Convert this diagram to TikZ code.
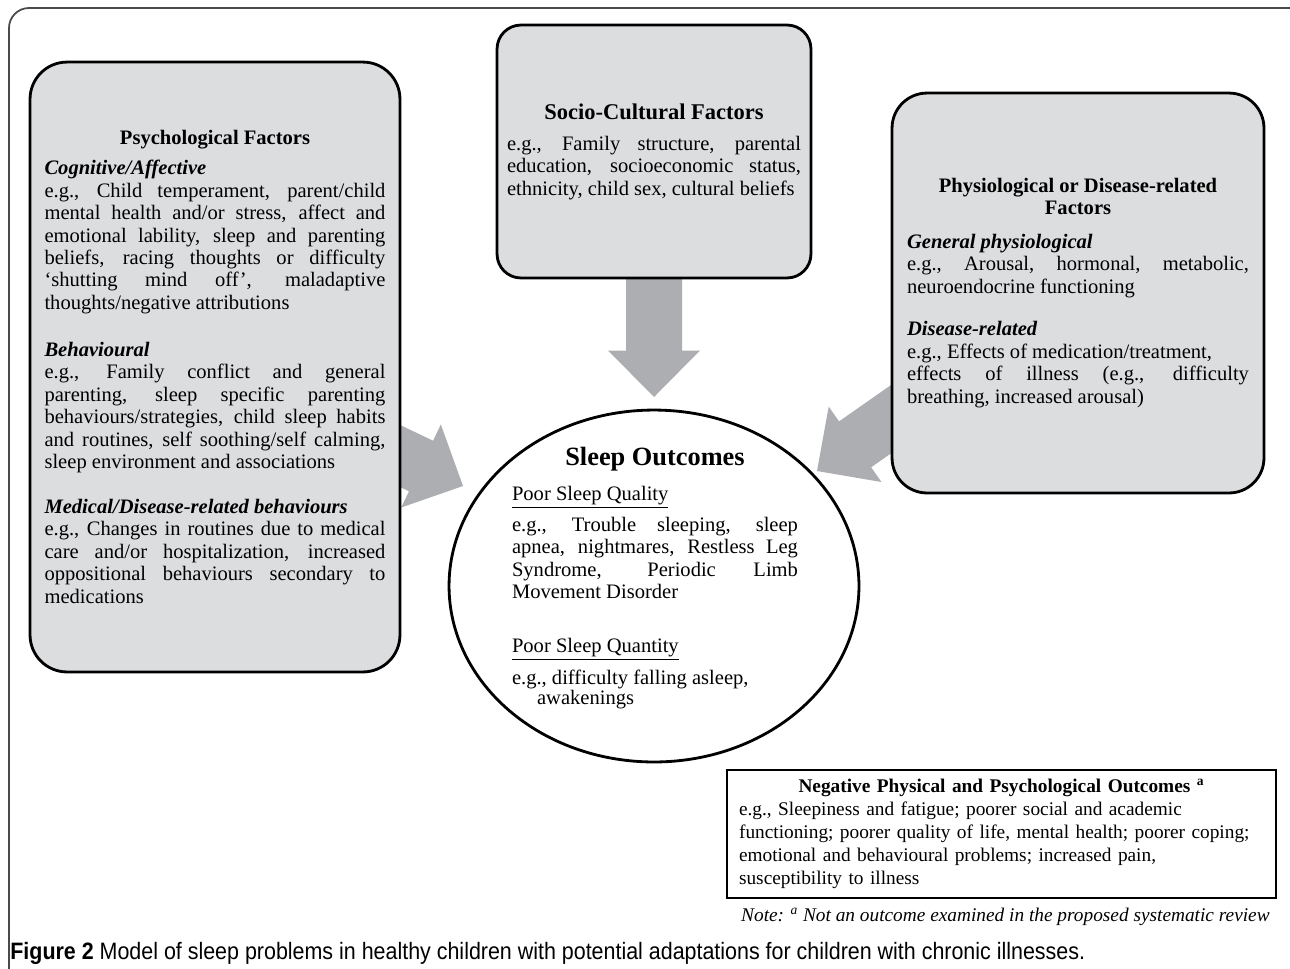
\documentclass[tikz,border=0pt]{standalone}
\usepackage{fontspec}
\setmainfont{Liberation Serif}
\newfontfamily\captionfont{Liberation Sans}
\usepackage{graphicx}
\usetikzlibrary{shapes.geometric,positioning}

\definecolor{boxgray}{HTML}{DCDDDF}
\definecolor{arrowgray}{HTML}{ADAEB1}
\definecolor{framegray}{HTML}{4A4A4A}

\tolerance=9999
\hyphenpenalty=10000

\begin{document}
\begin{tikzpicture}[x=0.02cm,y=-0.02cm,
    factor/.style={draw=black,line width=1.6pt,fill=boxgray,align=justify,
        inner xsep=0.29cm,font=\fontsize{11.7}{12.8}\selectfont},
    bigarrow/.style={fill=arrowgray}]

    % Page bounds
    \useasboundingbox (0,0) rectangle (1290,968);
    \fill[white] (0,0) rectangle (1290,968);
    \clip (0,0) rectangle (1290,968);

    % Outer frame
    \draw[framegray,line width=1pt,rounded corners=0.4cm] (9,990) -- (9,8) -- (1310,8) -- (1310,990);

    % Block arrows (tails hidden under the boxes)
    \foreach \tipx/\tipy/\ang in {463/486/-25.5, 654/397/-90, 817/471/-145}
        \fill[bigarrow,shift={(\tipx,\tipy)},rotate=\ang]
            (0,0) -- (-46.5,46) -- (-46.5,28) -- (-160,28) -- (-160,-28)
            -- (-46.5,-28) -- (-46.5,-46) -- cycle;

    % Psychological factors
    \node[factor,rounded corners=0.74cm,minimum width=7.4cm,minimum height=12.2cm,
        text width=6.82cm] (psych) at (215,367) {%
        {\centering\bfseries Psychological Factors\par}
        \vspace{4.2pt}
        \textbf{\textit{Cognitive/Affective}}\par
        e.g., Child temperament, parent/child\linebreak
        mental health and/or stress, affect and\linebreak
        emotional lability, sleep and parenting\linebreak
        beliefs, racing thoughts or difficulty\linebreak
        ‘shutting mind off’, maladaptive\linebreak
        thoughts/negative attributions\par
        \vspace{13.8pt}
        \textbf{\textit{Behavioural}}\par
        e.g., Family conflict and general\linebreak
        parenting, sleep specific parenting\linebreak
        behaviours/strategies, child sleep habits\linebreak
        and routines, self soothing/self calming,\linebreak
        sleep environment and associations\par
        \vspace{12.7pt}
        \textbf{\textit{Medical/Disease-related behaviours}}\par
        e.g., Changes in routines due to medical\linebreak
        care and/or hospitalization, increased\linebreak
        oppositional behaviours secondary to\linebreak
        medications};

    % Socio-cultural factors
    \node[factor,rounded corners=0.48cm,minimum width=6.28cm,minimum height=5.06cm,
        inner xsep=0.2cm,text width=5.88cm] (socio) at (654,151.5) {%
        {\centering\bfseries\fontsize{12.8}{14}\selectfont Socio-Cultural Factors\par}
        \vspace{4.8pt}
        e.g., Family structure, parental\linebreak
        education, socioeconomic status,\linebreak
        ethnicity, child sex, cultural beliefs};

    % Physiological or disease-related factors
    \node[factor,rounded corners=0.7cm,minimum width=7.44cm,minimum height=8cm,
        inner xsep=0.3cm,text width=6.84cm] (physio) at (1078,293) {%
        {\centering\bfseries Physiological or Disease-related\\Factors\par}
        \vspace{6pt}
        \textbf{\textit{General physiological}}\par
        e.g., Arousal, hormonal, metabolic,\linebreak
        neuroendocrine functioning\par
        \vspace{11.6pt}
        \textbf{\textit{Disease-related}}\par
        e.g., Effects of medication/treatment,\\
        effects of illness (e.g., difficulty\linebreak
        breathing, increased arousal)};

    % Sleep outcomes
    \node[draw,ellipse,line width=1.6pt,fill=white,minimum width=8.2cm,
        minimum height=7.04cm,inner sep=0pt] (outcomes) at (654,586) {};
    \node[align=justify,text width=5.72cm,font=\fontsize{11.7}{12.8}\selectfont]
        (sleeptext) at (655,578) {%
        {\centering\bfseries\fontsize{15}{18}\selectfont Sleep Outcomes\par}
        \vspace{7pt}
        \underline{Poor Sleep Quality}\par
        \vspace{4.8pt}
        e.g., Trouble sleeping, sleep\linebreak
        apnea, nightmares, Restless Leg\linebreak
        Syndrome, Periodic Limb\linebreak
        Movement Disorder\par
        \vspace{17.8pt}
        \underline{Poor Sleep Quantity}\par
        \vspace{5.3pt}
        e.g., difficulty falling asleep,\\[-1.5pt]
        \hspace*{0.5cm}awakenings};

    % Negative outcomes
    \node[draw,line width=0.7pt,minimum width=10.98cm,minimum height=2.56cm,
        inner xsep=0.24cm,text width=10.5cm,align=left,
        font=\fontsize{11}{13}\selectfont] (negative) at (1001.5,834) {%
        {\centering\bfseries Negative Physical and Psychological Outcomes \textsuperscript{a}\par}
        e.g., Sleepiness and fatigue; poorer social and academic\\
        functioning; poorer quality of life, mental health; poorer coping;\\
        emotional and behavioural problems; increased pain,\\
        susceptibility to illness};

    % Note
    \node[anchor=base east,inner sep=0pt,font=\itshape\fontsize{11}{13}\selectfont]
        (note) at (1270,921) {Note: \textsuperscript{a} Not an outcome examined in the proposed systematic review};

    % Caption
    \node[anchor=base west,inner sep=0pt] (caption) at (10,959) {\resizebox{21.5cm}{\height}{%
        \captionfont\fontsize{13.5}{16}\selectfont\textbf{Figure 2} Model of sleep problems in healthy children with potential adaptations for children with chronic illnesses.}};

\end{tikzpicture}
\end{document}
